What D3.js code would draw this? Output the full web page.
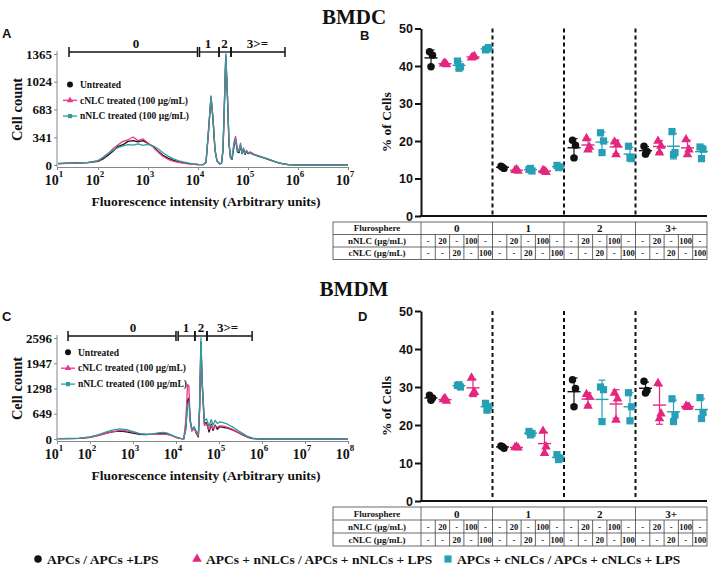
<!DOCTYPE html>
<html lang="en">
<head>
<meta charset="utf-8">
<title>BMDC / BMDM fluorosphere uptake</title>
<script src="https://d3js.org/d3.v7.min.js"></script>
<style>
  body { margin: 0; background: #fff; }
  svg { display: block; }
</style>
</head>
<body>
<svg id="fig" width="708" height="573"></svg>
<script>
// ---- histogram data (x = log10 fluorescence intensity) ----
const histAx = [1.2,1.4,1.6,1.8,2.0,2.1,2.2,2.3,2.4,2.5,2.6,2.7,2.8,2.9,3.0,3.1,3.2,3.3,3.4,3.5,3.6,3.7,3.8,3.9,
  4.0,4.1,4.16,4.21,4.26,4.3,4.34,4.38,4.43,4.47,4.5,4.53,4.556,4.59,4.62,4.65,4.68,4.72,4.75,4.79,4.82,4.85,4.88,
  4.91,4.94,4.97,5.0,5.05,5.1,5.15,5.2,5.3,5.4,5.5,5.6,5.7,5.8,5.9,6.0,6.5,7.0];
const histAUntreated = [18,22,25,30,45,75,120,170,230,250,290,300,285,300,265,230,170,120,85,60,42,30,20,12,
  6,4,30,420,830,560,180,50,15,20,180,780,1340,820,260,90,70,230,320,160,150,240,140,
  190,130,170,140,150,130,120,110,90,70,48,28,14,5,2,0,0,0];
const histACnlc = [15,20,22,28,50,90,140,200,250,290,310,345,300,320,270,220,160,105,70,48,32,22,14,9,
  5,4,28,400,850,580,190,55,15,22,190,800,1360,840,270,100,90,280,350,200,180,270,160,
  210,150,180,150,160,140,125,115,95,72,50,28,14,5,2,0,0,0];
const histANnlc = [20,24,26,32,55,95,140,180,215,235,250,245,260,240,255,235,200,150,110,78,55,38,25,15,
  8,5,32,430,840,570,185,52,14,20,185,790,1365,830,265,95,80,250,320,170,165,250,150,
  195,140,170,145,150,135,125,112,95,75,52,30,15,6,2,0,0,0];
const histAyTicks = [0, 341, 683, 1024, 1365];
const histAxTicks = [1, 2, 3, 4, 5, 6, 7];
const histAGates = [[1.42, 3.99], [4.03, 4.42], [4.42, 4.66], [4.66, 5.74]];
const histAGateLabelAt = [2.76, 4.2, 4.53, 5.19];

const histCx = [1.25,1.5,1.75,2.0,2.2,2.4,2.55,2.7,2.85,3.0,3.15,3.3,3.45,3.6,3.7,3.8,3.9,4.0,4.1,4.18,4.23,4.27,
  4.3,4.33,4.37,4.42,4.47,4.52,4.55,4.58,4.61,4.66,4.71,4.77,4.82,4.86,4.91,4.96,5.02,5.1,5.2,5.33,5.45,5.56,
  5.67,5.79,5.9,6.0,6.5,7.0,7.5,8.0];
const histCUntreated = [10,12,18,45,100,160,190,200,185,150,120,115,125,145,150,130,90,45,15,5,300,1000,
  1050,500,220,300,150,50,800,2500,1400,400,420,180,380,220,360,250,320,300,280,230,160,100,
  45,12,4,0,0,0,0,0];
const histCCnlc = [8,10,16,40,90,150,190,220,210,180,140,125,120,120,125,115,85,40,12,5,500,1400,
  1350,450,200,280,160,80,800,2400,1400,350,380,240,360,260,340,300,340,330,300,240,170,110,
  50,15,5,0,0,0,0,0];
const histCNnlc = [12,15,22,55,115,190,235,260,240,190,140,120,130,160,170,150,100,50,18,8,250,900,
  950,450,250,320,200,130,900,2596,1500,460,520,320,500,360,480,400,440,420,380,300,210,140,
  65,20,6,0,0,0,0,0];
const histCyTicks = [0, 649, 1298, 1947, 2596];
const histCxTicks = [1, 2, 3, 4, 5, 6, 7, 8];
const histCGates = [[1.49, 4.0], [4.05, 4.44], [4.44, 4.72], [4.72, 5.77]];
const histCGateLabelAt = [3.0, 4.23, 4.58, 5.2];
const gateLabels = ['0', '1', '2', '3>='];

// ---- scatter data (% of cells, 3 replicates per condition) ----
const groups = ['0', '1', '2', '3+'];
const conditions = ['ctrl', 'n20', 'c20', 'n100', 'c100'];
const nnlcRow = ['-', '20', '-', '100', '-'];
const cnlcRow = ['-', '-', '20', '-', '100'];
const pctTicks = [0, 10, 20, 30, 40, 50];

const bmdcG0 = [[43.8,42.9,39.8],[40.6,40.4,40.8],[41.3,39.8,39.4],[42.2,42.6,42.4],[44.3,44.9,44.5]];
const bmdcG1 = [[13.3,12.7,13.0],[12.2,12.0,12.4],[12.4,12.0,12.7],[12.2,11.7,12.0],[13.5,13.1,12.9]];
const bmdcG2 = [[20.2,18.9,15.5],[20.7,18.4,17.7],[22.2,20.0,16.9],[19.8,19.1,16.4],[18.6,15.3,15.6]];
const bmdcG3 = [[18.6,17.2,16.5],[20.0,18.7,16.9],[22.5,16.9,16.4],[20.4,17.7,16.4],[18.4,17.8,15.3]];

const bmdmG0 = [[27.8,27.1,26.5],[26.7,26.3,27.0],[30.4,30.0,30.6],[32.4,28.6,28.3],[25.7,24.8,23.9]];
const bmdmG1 = [[14.5,13.9,14.3],[14.1,14.0,14.2],[18.3,17.8,17.4],[18.4,14.3,12.6],[12.2,11.3,10.9]];
const bmdmG2 = [[31.9,29.6,24.8],[28.1,27.4,25.0],[30.0,29.3,20.9],[28.4,26.9,21.3],[28.5,24.8,21.1]];
const bmdmG3 = [[31.5,29.1,28.4],[31.0,23.0,21.7],[26.9,22.6,20.9],[25.0,24.8,24.7],[27.2,23.3,21.7]];

// ---- styles ----
const serif = "'Liberation Serif','Times New Roman',serif";
const sans = "'Liberation Sans',Arial,sans-serif";
const cBlack = '#111';
const cPink = '#e5267e';
const cTeal = '#27a0b5';
const hPink = '#e8388a';
const hTeal = '#2e9d9b';

const svg = d3.select('#fig');

function txt(g, x, y, s, size, opts) {
  opts = opts || {};
  return g.append('text')
    .attr('x', x).attr('y', y)
    .attr('font-family', opts.family || serif)
    .attr('font-weight', 'bold')
    .attr('font-size', size)
    .attr('text-anchor', opts.anchor || 'start')
    .attr('fill', opts.fill || '#111')
    .text(s);
}

// titles and panel letters
txt(svg, 354, 24, 'BMDC', 21, {anchor: 'middle'});
txt(svg, 354, 296, 'BMDM', 21, {anchor: 'middle'});
txt(svg, 2, 38, 'A', 13, {family: sans});
txt(svg, 360, 40, 'B', 13, {family: sans});
txt(svg, 2, 321, 'C', 13, {family: sans});
txt(svg, 358, 321, 'D', 13, {family: sans});

function histogram(o) {
  const g = svg.append('g');
  const x = d3.scaleLinear().domain(o.xDomain).range([57, 348]).clamp(true);
  const y = d3.scaleLinear().domain([0, d3.max(o.yTicks)]).range([o.yBase, o.yTop]);
  const axisY = o.yBase + 2;

  // y axis
  const yAxis = d3.axisLeft(y).tickValues(o.yTicks).tickFormat(d3.format('d'))
    .tickSize(3).tickSizeOuter(0).tickPadding(2);
  const ya = g.append('g').attr('transform', 'translate(57,0)').call(yAxis);
  ya.select('.domain').attr('stroke', '#888').attr('d', `M0,${axisY}V${o.yTop - 3}`);
  ya.selectAll('.tick line').attr('stroke', '#888');
  ya.selectAll('.tick text').attr('font-family', serif).attr('font-weight', 'bold')
    .attr('font-size', 13).attr('fill', '#111');

  // x axis
  const xAxis = d3.axisBottom(x).tickValues(o.xTicks).tickSize(3).tickSizeOuter(0).tickFormat('');
  const xa = g.append('g').attr('transform', `translate(0,${axisY})`).call(xAxis);
  xa.select('.domain').attr('stroke', '#888');
  xa.selectAll('.tick line').attr('stroke', '#888');
  const lab = g.selectAll('.xl').data(o.xTicks).join('text')
    .attr('x', d => x(d) - 3).attr('y', axisY + 18)
    .attr('text-anchor', 'middle')
    .attr('font-family', serif).attr('font-weight', 'bold').attr('font-size', 14).attr('fill', '#111');
  lab.append('tspan').text('10');
  lab.append('tspan').attr('dy', -8).attr('font-size', 9).text(d => d);

  txt(g, 206, axisY + 39, 'Fluorescence intensity (Arbitrary units)', 13.5, {anchor: 'middle'});
  txt(g, 0, 0, 'Cell count', 14.5, {anchor: 'middle'})
    .attr('transform', `translate(22,${(o.yBase + o.yTop) / 2}) rotate(-90)`);

  // curves
  const line = d3.line().x((d, i) => x(o.xs[i])).y(d => y(d));
  o.series.forEach(s => {
    g.append('path').attr('d', line(s.values)).attr('fill', 'none')
      .attr('stroke', s.color).attr('stroke-width', 1.3).attr('stroke-linejoin', 'round');
  });

  // gates
  const gy = o.gateY;
  o.gates.forEach(([a, b]) => {
    g.append('line').attr('x1', x(a)).attr('x2', x(b)).attr('y1', gy).attr('y2', gy)
      .attr('stroke', '#111').attr('stroke-width', 1.3);
    [a, b].forEach(v => g.append('line').attr('x1', x(v)).attr('x2', x(v))
      .attr('y1', gy - 5).attr('y2', gy + 5).attr('stroke', '#111').attr('stroke-width', 1.5));
  });
  gateLabels.forEach((l, i) => txt(g, x(o.gateLabelAt[i]), gy - 4, l, 13, {anchor: 'middle'}));

  // legend
  o.series.forEach((s, i) => {
    const ly = o.legendY + i * o.legendStep;
    if (s.shape !== 'circle') {
      g.append('line').attr('x1', o.legendX - 7).attr('x2', o.legendX + 7)
        .attr('y1', ly).attr('y2', ly).attr('stroke', s.color).attr('stroke-width', 1.3);
    }
    const sym = s.shape === 'circle' ? d3.symbolCircle : s.shape === 'triangle' ? d3.symbolTriangle : d3.symbolSquare;
    g.append('path').attr('d', d3.symbol(sym, s.shape === 'circle' ? 28 : 18)())
      .attr('transform', `translate(${o.legendX},${ly})`).attr('fill', s.color);
    txt(g, o.legendX + 10, ly + 3.2, s.label, 9.5);
  });
}

histogram({
  xs: histAx, xDomain: [1.18, 7], xTicks: histAxTicks, yTicks: histAyTicks,
  yBase: 165, yTop: 54, gateY: 52, gates: histAGates, gateLabelAt: histAGateLabelAt,
  legendX: 70, legendY: 84.5, legendStep: 15.8,
  series: [
    {label: 'Untreated', values: histAUntreated, color: cBlack, shape: 'circle'},
    {label: 'cNLC treated (100 \u00b5g/mL)', values: histACnlc, color: hPink, shape: 'triangle'},
    {label: 'nNLC treated (100 \u00b5g/mL)', values: histANnlc, color: hTeal, shape: 'square'}
  ]
});

histogram({
  xs: histCx, xDomain: [1.233, 8], xTicks: histCxTicks, yTicks: histCyTicks,
  yBase: 439, yTop: 338, gateY: 336, gates: histCGates, gateLabelAt: histCGateLabelAt,
  legendX: 68, legendY: 352.3, legendStep: 15.9,
  series: [
    {label: 'Untreated', values: histCUntreated, color: cBlack, shape: 'circle'},
    {label: 'cNLC treated (100 \u00b5g/mL)', values: histCCnlc, color: hPink, shape: 'triangle'},
    {label: 'nNLC treated (100 \u00b5g/mL)', values: histCNnlc, color: hTeal, shape: 'square'}
  ]
});

const condStyle = [
  {shape: d3.symbolCircle, size: 44, color: cBlack},
  {shape: d3.symbolTriangle, size: 40, color: cPink},
  {shape: d3.symbolSquare, size: 52, color: cTeal},
  {shape: d3.symbolTriangle, size: 40, color: cPink},
  {shape: d3.symbolSquare, size: 52, color: cTeal}
];

function scatter(o) {
  const g = svg.append('g');
  const x0 = d3.scaleBand().domain(groups).range([421, 707]);
  const x1 = d3.scalePoint().domain(d3.range(conditions.length)).range([10, 66]);
  const y = d3.scaleLinear().domain([0, 50]).range([o.y0, o.y50]);

  // dashed group separators
  groups.slice(1).forEach(gr => {
    g.append('line').attr('x1', x0(gr)).attr('x2', x0(gr)).attr('y1', o.y50).attr('y2', o.y0)
      .attr('stroke', '#111').attr('stroke-width', 2).attr('stroke-dasharray', '4,3');
  });

  const yAxis = d3.axisLeft(y).tickValues(pctTicks).tickSize(6).tickSizeOuter(0).tickPadding(2);
  const ya = g.append('g').attr('transform', 'translate(421,0)').call(yAxis);
  ya.select('.domain').attr('stroke', '#111').attr('stroke-width', 2);
  ya.selectAll('.tick line').attr('stroke', '#111').attr('stroke-width', 2);
  ya.selectAll('.tick text').attr('font-family', sans).attr('font-weight', 'bold')
    .attr('font-size', 12.5).attr('fill', '#111');
  g.append('line').attr('x1', 420).attr('x2', 707).attr('y1', o.y0).attr('y2', o.y0)
    .attr('stroke', '#111').attr('stroke-width', 2);
  txt(g, 0, 0, '% of Cells', 13.5, {anchor: 'middle'})
    .attr('transform', `translate(391,${(o.y0 + o.y50) / 2}) rotate(-90)`);

  o.data.forEach((grp, gi) => {
    grp.forEach((vals, ci) => {
      const cx = x0(groups[gi]) + x1(ci);
      const st = condStyle[ci];
      const m = d3.mean(vals), sd = d3.deviation(vals);
      g.append('line').attr('x1', cx).attr('x2', cx).attr('y1', y(m - sd)).attr('y2', y(m + sd))
        .attr('stroke', st.color).attr('stroke-width', 1.2);
      [m - sd, m + sd].forEach(v => g.append('line').attr('x1', cx - 3.5).attr('x2', cx + 3.5)
        .attr('y1', y(v)).attr('y2', y(v)).attr('stroke', st.color).attr('stroke-width', 1.2));
      g.append('line').attr('x1', cx - 6.5).attr('x2', cx + 6.5).attr('y1', y(m)).attr('y2', y(m))
        .attr('stroke', st.color).attr('stroke-width', 1.4);
      g.selectAll(null).data(vals).join('path')
        .attr('d', d3.symbol(st.shape, st.size)())
        .attr('transform', (v, i) => `translate(${cx + [-1.5, 1.5, 0][i]},${y(v)})`)
        .attr('fill', st.color);
    });
  });

  // table
  const t = o.tableTop, rh = o.rowH, left = 333, right = 707;
  const sub = x0.bandwidth() / conditions.length;
  const tg = g.append('g').attr('stroke', '#444').attr('stroke-width', 0.8).attr('fill', 'none');
  tg.append('rect').attr('x', left).attr('y', t).attr('width', right - left).attr('height', rh * 3);
  [1, 2].forEach(r => tg.append('line').attr('x1', left).attr('x2', right)
    .attr('y1', t + r * rh).attr('y2', t + r * rh));
  tg.append('line').attr('x1', 421).attr('x2', 421).attr('y1', t).attr('y2', t + 3 * rh);
  groups.slice(1).forEach(gr => tg.append('line').attr('x1', x0(gr)).attr('x2', x0(gr))
    .attr('y1', t).attr('y2', t + 3 * rh));
  groups.forEach(gr => d3.range(1, conditions.length).forEach(k => tg.append('line')
    .attr('x1', x0(gr) + k * sub).attr('x2', x0(gr) + k * sub).attr('y1', t + rh).attr('y2', t + 3 * rh)));

  txt(g, 377, t + rh * 0.5 + 3.2, 'Flurosphere', 9, {anchor: 'middle'});
  txt(g, 377, t + rh * 1.5 + 3.2, 'nNLC (\u00b5g/mL)', 9, {anchor: 'middle'});
  txt(g, 377, t + rh * 2.5 + 3.2, 'cNLC (\u00b5g/mL)', 9, {anchor: 'middle'});
  groups.forEach(gr => {
    txt(g, x0(gr) + x0.bandwidth() / 2, t + rh * 0.5 + 4, gr, 11, {anchor: 'middle'});
    nnlcRow.forEach((s, k) => txt(g, x0(gr) + (k + 0.5) * sub, t + rh * 1.5 + 3.2, s, 8.5, {anchor: 'middle'}));
    cnlcRow.forEach((s, k) => txt(g, x0(gr) + (k + 0.5) * sub, t + rh * 2.5 + 3.2, s, 8.5, {anchor: 'middle'}));
  });
}

scatter({data: [bmdcG0, bmdcG1, bmdcG2, bmdcG3], y0: 216, y50: 28.5, tableTop: 222, rowH: 12.5});
scatter({data: [bmdmG0, bmdmG1, bmdmG2, bmdmG3], y0: 501, y50: 311, tableTop: 507, rowH: 13});

// bottom legend
const legendItems = [
  {label: 'APCs / APCs +LPS', st: condStyle[0], x: 38},
  {label: 'APCs + nNLCs / APCs + nNLCs + LPS', st: condStyle[1], x: 197},
  {label: 'APCs + cNLCs / APCs + cNLCs + LPS', st: condStyle[2], x: 448}
];
legendItems.forEach(it => {
  svg.append('path').attr('d', d3.symbol(it.st.shape, it.st.size)())
    .attr('transform', `translate(${it.x},559)`).attr('fill', it.st.color);
  txt(svg, it.x + 9, 563.5, it.label, 13.5);
});
</script>
</body>
</html>
